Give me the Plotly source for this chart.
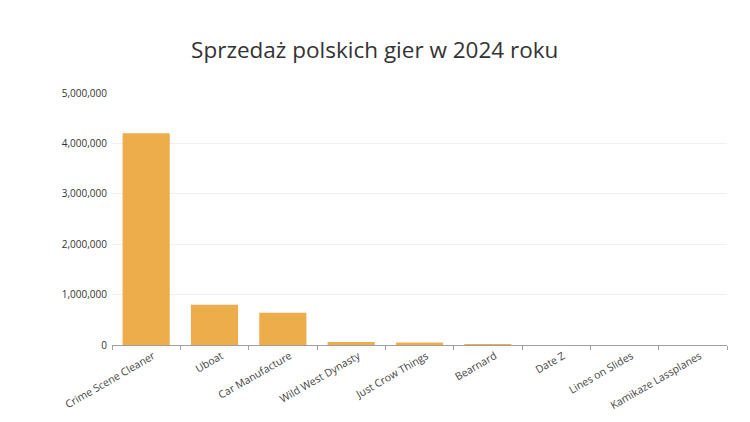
import plotly.graph_objects as go

games = ["Crime Scene Cleaner", "Uboat", "Car Manufacture", "Wild West Dynasty",
         "Just Crow Things", "Bearnard", "Date Z", "Lines on Slides", "Kamikaze Lassplanes"]
sales = [4200000, 800000, 640000, 60000, 50000, 9000, 0, 0, 0]
y_ticks = [0, 1000000, 2000000, 3000000, 4000000, 5000000]

fig = go.Figure(go.Bar(x=games, y=sales, marker_color="#EDAD4A", marker_line_width=0))

fig.update_layout(
    width=750, height=422,
    margin=dict(l=104, r=31, t=85, b=85, autoexpand=False),
    paper_bgcolor="white", plot_bgcolor="white",
    bargap=0.31,
    title=dict(text="Sprzedaż polskich gier w 2024 roku", x=0.489, xanchor="center",
               y=0.90, yanchor="middle", yref="container",
               font=dict(family="Open Sans", size=22.5, color="#333333")),
    font=dict(family="Open Sans", size=10, color="#333333"),
    showlegend=False,
)
fig.update_xaxes(tickangle=-30, showline=True, linecolor="#a0a0a0", linewidth=1,
                 ticks="outside", tickson="boundaries", ticklen=4, tickcolor="#a0a0a0",
                 showgrid=False, automargin=False, ticklabelshift=7,
                 tickfont=dict(size=10.5, color="#444444"))
fig.update_yaxes(range=[0, 5000000], tickvals=y_ticks, tickformat=",d",
                 showgrid=True, gridcolor="#f0f0f0", zeroline=False, automargin=False,
                 tickfont=dict(size=10, color="#333333"), ticks="", ticklabelstandoff=4)

fig.write_html("out.html")
